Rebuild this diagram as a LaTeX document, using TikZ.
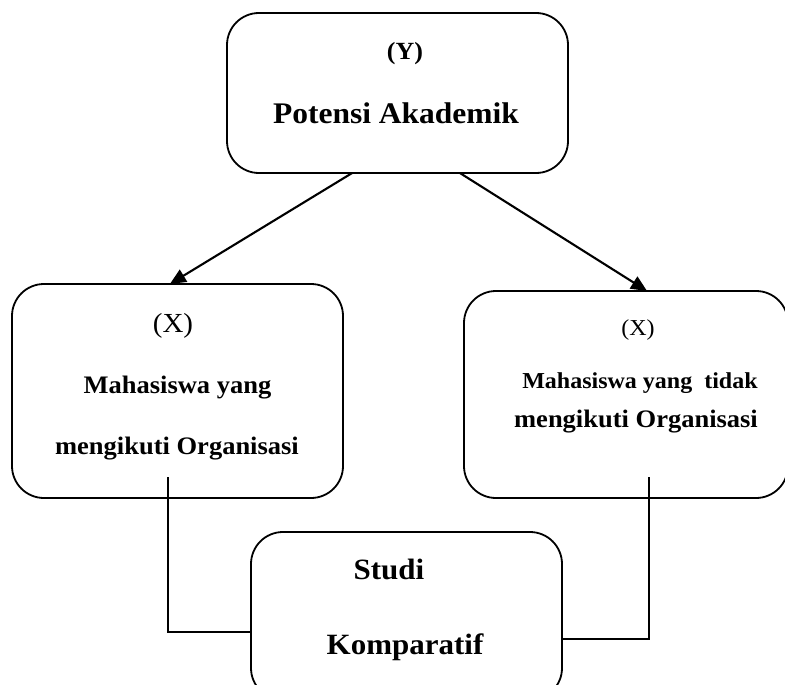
\documentclass[tikz,border=0pt]{standalone}
\usepackage{fontspec}
\setmainfont{Liberation Serif}
\usetikzlibrary{arrows.meta,calc}
\newcommand{\sq}[1]{\scalebox{1}[0.95]{#1}}
\begin{document}
\begin{tikzpicture}[x=1pt,y=-1pt,
  box/.style={draw, line width=1.8pt, rounded corners=32pt, inner sep=0pt, outer sep=0pt},
  lbl/.style={anchor=base, inner sep=0pt},
  arr/.style={line width=2.1pt, -{Triangle[length=16pt,width=14pt]}},
  conn/.style={line width=1.5pt}]
\useasboundingbox (0,0) rectangle (785,685);
% boxes
\node[box, minimum width=341pt, minimum height=160pt] (top) at (397.5,93) {};
\node[box, minimum width=331pt, minimum height=214pt] (left) at (177.5,391) {};
\node[box, minimum width=324pt, minimum height=207pt] (right) at (626,394.5) {};
\node[box, minimum width=311pt, minimum height=168pt] (bottom) at (406.5,616) {};
% texts
\node[lbl] (ty) at (405,60) {\fontsize{26}{30}\selectfont\bfseries\sq{(Y)}};
\node[lbl] (tp) at (396,124) {\fontsize{31.5}{36}\selectfont\bfseries\sq{Potensi Akademik}};
\node[lbl] (lx) at (173,332) {\fontsize{29}{33}\selectfont\sq{(X)}};
\node[lbl] (lm) at (177.5,393) {\fontsize{26.5}{30}\selectfont\bfseries\sq{Mahasiswa yang}};
\node[lbl] (lo) at (177,454) {\fontsize{26.5}{30}\selectfont\bfseries\sq{mengikuti Organisasi}};
\node[lbl] (rx) at (638,335) {\fontsize{24}{28}\selectfont\sq{(X)}};
\node[lbl] (rm) at (640,388) {\fontsize{24}{28}\selectfont\bfseries\sq{Mahasiswa yang\ \ tidak}};
\node[lbl] (ro) at (636,427) {\fontsize{26.5}{30}\selectfont\bfseries\sq{mengikuti Organisasi}};
\node[lbl] (bs) at (389,579) {\fontsize{31}{36}\selectfont\bfseries\sq{Studi}};
\node[lbl] (bk) at (405,654) {\fontsize{31}{36}\selectfont\bfseries\sq{Komparatif}};
% arrows
\draw[arr] ($(top.south west)!0.367!(top.south east)$) -- ($(left.north west)!0.477!(left.north east)$);
\draw[arr] ($(top.south west)!0.683!(top.south east)$) -- ($(right.north west)!0.565!(right.north east)$);
% connectors
\coordinate (lc) at (168,477);
\coordinate (rc) at (649,477);
\path (bottom.west) ++(0,16) coordinate (lb);
\path (bottom.east) ++(0,23) coordinate (rb);
\draw[conn] (lc) |- (lb);
\draw[conn] (rc) |- (rb);
\end{tikzpicture}
\end{document}
